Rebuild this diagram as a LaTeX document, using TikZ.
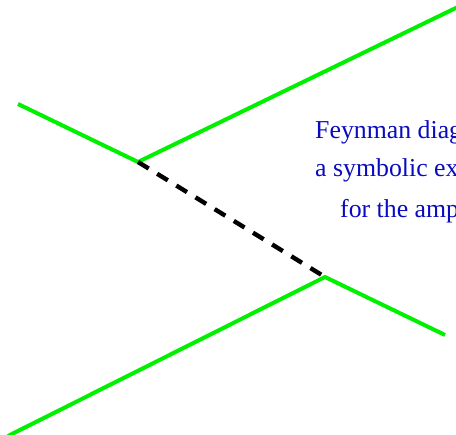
\documentclass[tikz,border=0pt]{standalone}
\usepackage{fontspec}
\setmainfont{Liberation Serif}
\usetikzlibrary{positioning}
\definecolor{linegreen}{RGB}{0,240,0}
\definecolor{textblue}{RGB}{10,10,190}

\begin{document}
\begin{tikzpicture}[x=1pt,y=1pt,
fermion/.style={linegreen,line width=4pt},
boson/.style={black,line width=4.4pt,dash pattern=on 12.5pt off 10pt},
label/.style={textblue,font=\fontsize{25.8}{30}\selectfont,anchor=base west,inner sep=0pt}]
\clip (0,0) rectangle (456,435);
\useasboundingbox (0,0) rectangle (456,435);
\foreach \n/\x/\y in {a/18/331,u/138/273,b/462/430,v/325/158,c/445/100,d/8/-1}
  \coordinate (\n) at (\x,\y);
\draw[fermion] (a)--(u)--(b);
\draw[fermion] (d)--(v)--(c);
\draw[boson] (u)--(v);
\node[label] (l1) at (315,296) {Feynman diag};
\node[label] (l2) at (315,258) {a symbolic ex};
\node[label] (l3) at (340,217) {for the amp};
\end{tikzpicture}
\end{document}
